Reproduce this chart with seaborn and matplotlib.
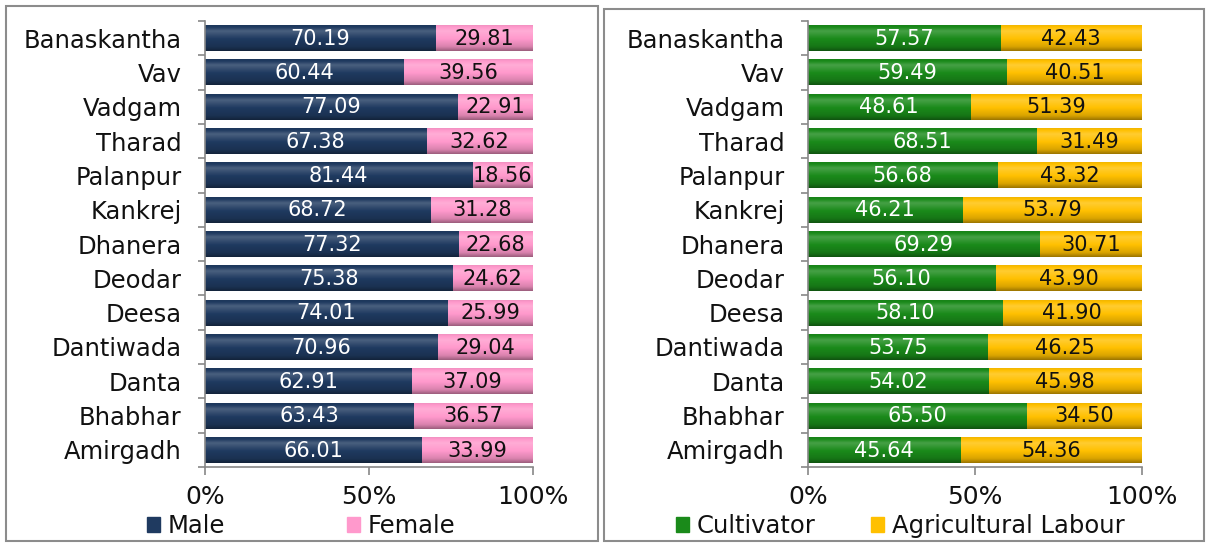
import matplotlib
matplotlib.use("Agg")
import matplotlib.pyplot as plt
import seaborn as sns
import pandas as pd
import numpy as np
from matplotlib.patches import Rectangle, Patch
from matplotlib.ticker import FixedLocator
from matplotlib.colors import to_rgb

categories = ["Banaskantha", "Vav", "Vadgam", "Tharad", "Palanpur", "Kankrej",
              "Dhanera", "Deodar", "Deesa", "Dantiwada", "Danta", "Bhabhar", "Amirgadh"]
male = [70.19, 60.44, 77.09, 67.38, 81.44, 68.72, 77.32, 75.38, 74.01, 70.96, 62.91, 63.43, 66.01]
female = [29.81, 39.56, 22.91, 32.62, 18.56, 31.28, 22.68, 24.62, 25.99, 29.04, 37.09, 36.57, 33.99]
cultivator = [57.57, 59.49, 48.61, 68.51, 56.68, 46.21, 69.29, 56.10, 58.10, 53.75, 54.02, 65.50, 45.64]
ag_labour = [42.43, 40.51, 51.39, 31.49, 43.32, 53.79, 30.71, 43.90, 41.90, 46.25, 45.98, 34.50, 54.36]
xtick_labels = ["0%", "50%", "100%"]

sns.set_theme(style="white")
plt.rcParams['font.family'] = ['DejaVu Sans']
plt.rcParams['text.color'] = '#111111'

fig = plt.figure(figsize=(12.07, 5.43), dpi=100)
W, H = 1207, 543

def px_axes(x0, x1, y0, y1):
    return fig.add_axes([x0 / W, 1 - y1 / H, (x1 - x0) / W, (y1 - y0) / H])

ax1 = px_axes(205, 533, 21, 467)
ax2 = px_axes(808, 1142, 21, 467)

# vertical shading profile (top -> bottom): >1 lightens, <1 darkens
prof_pos = np.array([0.0, 0.25, 0.55, 0.85, 1.0])
prof_val = np.array([0.92, 1.12, 1.0, 0.85, 0.62])

def gradient_overlay(ax, patch):
    base = np.array(to_rgb(patch.get_facecolor()))
    t = np.linspace(0, 1, 32)
    f = np.interp(t, prof_pos, prof_val)
    rows = []
    for v in f:
        if v >= 1:
            c = base + (1 - base) * (v - 1) * 1.6
        else:
            c = base * v
        rows.append(np.clip(c, 0, 1))
    img = np.array(rows)[:, None, :]
    x, y = patch.get_x(), patch.get_y()
    w, h = patch.get_width(), patch.get_height()
    y0, y1 = min(y, y + h), max(y, y + h)
    im = ax.imshow(img, extent=(x, x + w, y1, y0), origin="upper", aspect="auto",
                   interpolation="bilinear", zorder=patch.get_zorder() + 0.1)
    im.set_clip_path(patch)

def draw(ax, first, second, c1, c2, tc1, tc2):
    df = pd.DataFrame({"cat": categories, "a": first, "b": second})
    df["tot"] = df["a"] + df["b"]
    sns.barplot(data=df, y="cat", x="tot", color=c2, orient="h", width=0.76,
                ax=ax, saturation=1, order=categories)
    sns.barplot(data=df, y="cat", x="a", color=c1, orient="h", width=0.76,
                ax=ax, saturation=1, order=categories)
    patches = list(ax.patches)
    for k, p in enumerate(patches):
        p.set_edgecolor("none")
        # overlays: background (total) bars get lower z than foreground bars
        p.set_zorder(1 if k < len(categories) else 2)
        gradient_overlay(ax, p)
    for i, (a, b) in enumerate(zip(first, second)):
        ax.text(a / 2, i + 0.02, f"{a:.2f}", ha="center", va="center", color=tc1,
                fontsize=15, zorder=5)
        ax.text(a + b / 2, i + 0.02, f"{b:.2f}", ha="center", va="center", color=tc2,
                fontsize=15, zorder=5)
    ax.set_xlim(0, 100)
    ax.set_ylim(len(categories) - 0.5, -0.5)
    ax.set_xlabel("")
    ax.set_ylabel("")
    ax.set_xticks([0, 50, 100])
    ax.set_xticklabels(xtick_labels, fontsize=18, color="#111111")
    ax.set_yticks(range(len(categories)))
    ax.set_yticklabels(categories, fontsize=17.5, color="#111111")
    ax.yaxis.set_minor_locator(FixedLocator(np.arange(-0.5, len(categories), 1)))
    ax.tick_params(axis="y", which="major", length=0, pad=17)
    ax.tick_params(axis="y", which="minor", length=5, color="#888888", width=1.2, left=True)
    ax.tick_params(axis="x", which="major", length=6, color="#888888", width=1.2,
                   bottom=True, pad=7)
    for s in ["top", "right"]:
        ax.spines[s].set_visible(False)
    for s in ["left", "bottom"]:
        ax.spines[s].set_color("#888888")
        ax.spines[s].set_linewidth(1.2)
        ax.spines[s].set_zorder(6)
    ax.set_facecolor("white")

draw(ax1, male, female, "#1F3A60", "#FF99CC", "white", "#111111")
draw(ax2, cultivator, ag_labour, "#1A8A1A", "#FFC000", "white", "#111111")

# legends
fig.legend(handles=[Patch(color="#1F3A60", label="Male"), Patch(color="#FF99CC", label="Female")],
           loc="center", bbox_to_anchor=(301 / W, 1 - 526 / H), ncol=2, frameon=False,
           fontsize=17.5, handlelength=0.55, handleheight=0.55, handletextpad=0.3,
           columnspacing=5.0)
fig.legend(handles=[Patch(color="#1A8A1A", label="Cultivator"),
                    Patch(color="#FFC000", label="Agricultural Labour")],
           loc="center", bbox_to_anchor=(900 / W, 1 - 526 / H), ncol=2, frameon=False,
           fontsize=17.5, handlelength=0.55, handleheight=0.55, handletextpad=0.3,
           columnspacing=2.3)

# panel borders
for (x0, x1, y0, y1) in [(6, 598, 6, 541), (604, 1204, 9, 541)]:
    fig.add_artist(Rectangle((x0 / W, 1 - y1 / H), (x1 - x0) / W, (y1 - y0) / H,
                             transform=fig.transFigure, fill=False,
                             edgecolor="#8c8c8c", linewidth=1.5))

fig.savefig("out.png", dpi=100, facecolor="white")
